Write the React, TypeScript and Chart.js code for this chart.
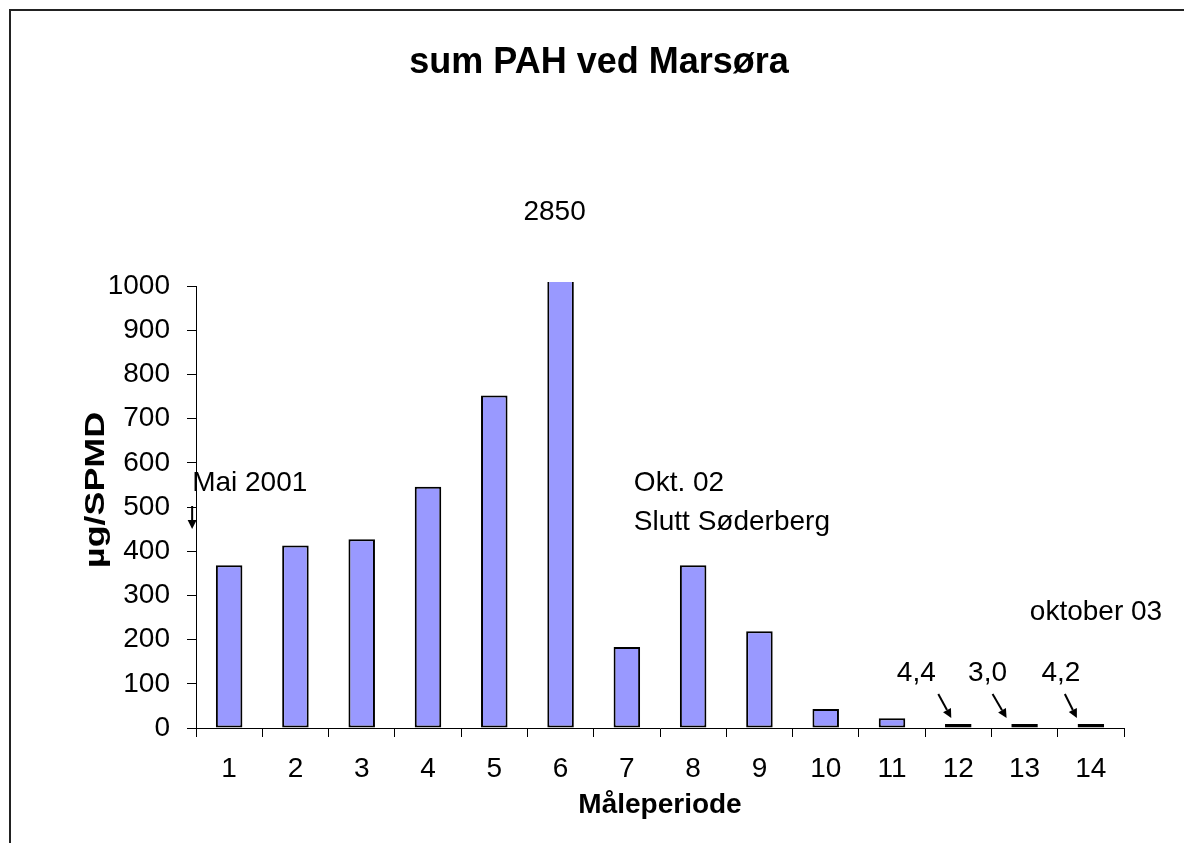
import React, { useEffect, useRef } from 'react';
import { Chart, registerables } from 'chart.js';

Chart.register(...registerables);

const categories = ['1', '2', '3', '4', '5', '6', '7', '8', '9', '10', '11', '12', '13', '14'];
const pahValues = [368, 413, 427, 546, 752, 2850, 183, 368, 219, 43, 22, 4.4, 3.0, 4.2];
const yMin = 0;
const yMax = 1000;
const yStep = 100;

const titleText = 'sum PAH ved Marsøra';
const xTitle = 'Måleperiode';
const yTitle = 'µg/SPMD';
const peakLabel = '2850';
const noteStart = 'Mai 2001';
const noteStop = ['Okt. 02', 'Slutt Søderberg'];
const noteEnd = 'oktober 03';
const smallLabels = ['4,4', '3,0', '4,2'];
const smallLabelIndex = [11, 12, 13];

const FONT = '"Liberation Sans", Arial, Helvetica, sans-serif';
const W = 1184;
const H = 843;

function drawArrow(ctx: CanvasRenderingContext2D, x1: number, y1: number, x2: number, y2: number) {
  const ang = Math.atan2(y2 - y1, x2 - x1);
  const head = 9;
  const hw = 4.5;
  ctx.save();
  ctx.strokeStyle = '#000';
  ctx.fillStyle = '#000';
  ctx.lineWidth = 2;
  ctx.beginPath();
  ctx.moveTo(x1, y1);
  ctx.lineTo(x2 - Math.cos(ang) * head, y2 - Math.sin(ang) * head);
  ctx.stroke();
  ctx.beginPath();
  ctx.moveTo(x2, y2);
  ctx.lineTo(x2 - Math.cos(ang) * head - Math.sin(ang) * hw, y2 - Math.sin(ang) * head + Math.cos(ang) * hw);
  ctx.lineTo(x2 - Math.cos(ang) * head + Math.sin(ang) * hw, y2 - Math.sin(ang) * head - Math.cos(ang) * hw);
  ctx.closePath();
  ctx.fill();
  ctx.restore();
}

const decorPlugin = {
  id: 'decor',
  afterDraw(chart: any) {
    const ctx: CanvasRenderingContext2D = chart.ctx;
    const xs = chart.scales.x;
    const ys = chart.scales.y;
    const area = chart.chartArea;
    ctx.save();
    // outer frame (left + top)
    ctx.strokeStyle = '#222';
    ctx.lineWidth = 2;
    ctx.beginPath();
    ctx.moveTo(10, H);
    ctx.lineTo(10, 10);
    ctx.lineTo(W, 10);
    ctx.stroke();

    ctx.fillStyle = '#000';
    ctx.textBaseline = 'middle';

    // title
    ctx.font = `bold 36px ${FONT}`;
    ctx.textAlign = 'center';
    ctx.fillText(titleText, 599, 63);

    // peak value
    ctx.font = `28px ${FONT}`;
    ctx.fillText(peakLabel, xs.getPixelForValue(5) - 6, 212);

    // axis titles
    ctx.font = `bold 28px ${FONT}`;
    ctx.fillText(xTitle, (area.left + area.right) / 2, 805);
    ctx.save();
    ctx.translate(96, 490);
    ctx.rotate(-Math.PI / 2);
    ctx.scale(1.28, 1);
    ctx.fillText(yTitle, 0, 0);
    ctx.restore();

    // notes
    ctx.font = `28px ${FONT}`;
    ctx.textAlign = 'left';
    const x0 = xs.getPixelForValue(0);
    ctx.fillText(noteStart, x0 - 37, 483);
    drawArrow(ctx, x0 - 37, 506, x0 - 37, 529);

    const x6 = xs.getPixelForValue(6);
    ctx.fillText(noteStop[0], x6 + 7, 483);
    ctx.fillText(noteStop[1], x6 + 7, 522);

    const x13 = xs.getPixelForValue(13);
    ctx.fillText(noteEnd, x13 - 61, 612);

    ctx.textAlign = 'center';
    const labelOffsets = [-42, -37, -30];
    const arrowFrom = [-20, -32, -26];
    const arrowTo = [-7, -18, -14];
    smallLabels.forEach((t, i) => {
      const xi = xs.getPixelForValue(smallLabelIndex[i]);
      ctx.fillText(t, xi + labelOffsets[i], 673);
      drawArrow(ctx, xi + arrowFrom[i], 694, xi + arrowTo[i], ys.getPixelForValue(0) - 10);
    });
    ctx.restore();
  },
};

export default function App() {
  const ref = useRef<HTMLCanvasElement>(null);
  useEffect(() => {
    if (!ref.current) return;
    const yTicks: number[] = [];
    for (let v = yMin; v <= yMax; v += yStep) yTicks.push(v);
    const chart = new Chart(ref.current, {
      type: 'bar',
      data: {
        labels: categories,
        datasets: [
          {
            data: pahValues,
            backgroundColor: '#9999FF',
            borderColor: '#000000',
            borderWidth: 2,
            borderSkipped: false,
            minBarLength: 4,
            barPercentage: 0.4,
            categoryPercentage: 1,
            clip: { left: 0, top: 4, right: 0, bottom: 0 } as any,
          },
        ],
      },
      options: {
        animation: false,
        responsive: false,
        devicePixelRatio: 1,
        layout: { padding: { left: 0, top: 286, right: 60, bottom: 0 } },
        plugins: { legend: { display: false }, tooltip: { enabled: false }, title: { display: false } },
        scales: {
          x: {
            grid: { display: true, offset: true, drawOnChartArea: false, tickLength: 9, color: '#000' },
            border: { color: '#000', width: 1 },
            ticks: { color: '#000', font: { family: FONT, size: 28 }, padding: 15, maxRotation: 0 },
            afterFit: (s: any) => {
              s.height = 115;
            },
          },
          y: {
            min: yMin,
            max: yMax,
            afterBuildTicks: (s: any) => {
              s.ticks = yTicks.map((v) => ({ value: v }));
            },
            grid: { display: true, drawOnChartArea: false, tickLength: 9, color: '#000' },
            border: { color: '#000', width: 1 },
            ticks: {
              color: '#000',
              font: { family: FONT, size: 28 },
              padding: 17,
              callback: (v: any) => String(v),
            },
            afterFit: (s: any) => {
              s.width = 196;
            },
          },
        },
      },
      plugins: [decorPlugin],
    });
    return () => chart.destroy();
  }, []);
  return (
    <div style={{ position: 'absolute', left: 0, top: 0, width: W, height: H, background: '#fff' }}>
      <canvas ref={ref} width={W} height={H} style={{ display: 'block', width: W, height: H }} />
    </div>
  );
}
